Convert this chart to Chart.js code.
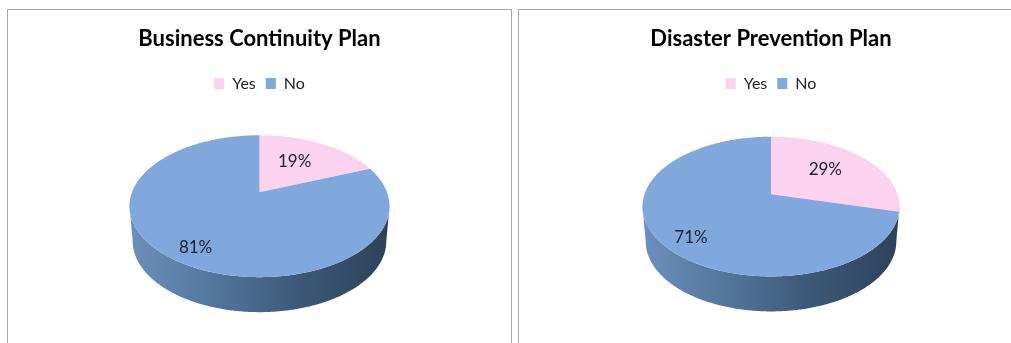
<!DOCTYPE html>
<html>
<head>
<meta charset="utf-8">
<title>Plans</title>
<script src="https://cdn.jsdelivr.net/npm/chart.js@4/dist/chart.umd.min.js"></script>
<style>
  html, body { margin: 0; padding: 0; background: #fff; overflow: hidden; }
  #page { position: relative; width: 1011px; height: 343px; overflow: hidden; }
  .panel { position: absolute; top: 9px; height: 345px; border: 1px solid #a6a6a6; box-sizing: border-box; background: #fff; }
  #panelA { left: 7px; width: 505px; }
  #panelB { left: 518px; width: 520px; }
  canvas { position: absolute; top: 0; left: 0; }
</style>
</head>
<body>
<div id="page">
  <div class="panel" id="panelA"><canvas id="chartA" width="503" height="333"></canvas></div>
  <div class="panel" id="panelB"><canvas id="chartB" width="504" height="333"></canvas></div>
</div>
<script>
const categories = ['Yes', 'No'];
const businessContinuity = [19, 81];
const disasterPrevention = [29, 71];

const pink = '#fbd3ee';
const blue = '#80a8dc';

// tilted pie: the library works out the arcs, this plugin paints them in perspective
const tiltedPie = {
  id: 'tiltedPie',
  beforeDatasetsDraw(chart, args, opts) {
    const ctx = chart.ctx;
    const arcs = chart.getDatasetMeta(0).data;
    const cx = arcs[0].x, cy = arcs[0].y, r = arcs[0].outerRadius;

    const project = (angle, f) => {
      // chart.js angles: 0 points right, clockwise
      const u = Math.cos(angle) * f, v = Math.sin(angle) * f;
      const w = 1 - opts.tilt * v;
      return [cx + r * u / w, cy + r * opts.squash * v / w];
    };
    chart.$project = project;

    // side wall, from the leftmost rim point round the front to the rightmost
    const rim = [];
    for (let i = 0; i <= 720; i++) rim.push(project(i / 720 * Math.PI * 2, 1));
    let right = 0, left = 0;
    rim.forEach((p, i) => {
      if (p[0] > rim[right][0]) right = i;
      if (p[0] < rim[left][0]) left = i;
    });
    const front = rim.slice(right, left + 1);
    const minX = rim[left][0], maxX = rim[right][0];
    const grad = ctx.createLinearGradient(minX, 0, maxX, 0);
    grad.addColorStop(0, '#6c90bc');
    grad.addColorStop(0.3, '#55789f');
    grad.addColorStop(0.65, '#3d5878');
    grad.addColorStop(1, '#2d4258');
    ctx.save();
    ctx.fillStyle = grad;
    ctx.beginPath();
    front.forEach((p, i) => i ? ctx.lineTo(p[0], p[1]) : ctx.moveTo(p[0], p[1]));
    // the base sits a little further away, so it is slightly narrower
    front.slice().reverse().forEach(p => ctx.lineTo(cx + (p[0] - cx) * opts.taper, p[1] + opts.depth));
    ctx.closePath();
    ctx.fill();

    // top face
    arcs.forEach((arc, i) => {
      ctx.fillStyle = chart.data.datasets[0].backgroundColor[i];
      ctx.beginPath();
      ctx.moveTo(cx, cy);
      const steps = 180;
      for (let s = 0; s <= steps; s++) {
        const p = project(arc.startAngle + (arc.endAngle - arc.startAngle) * s / steps, 1);
        ctx.lineTo(p[0], p[1]);
      }
      ctx.closePath();
      ctx.fill();
    });
    ctx.restore();
    return false;
  },
  afterDraw(chart, args, opts) {
    const ctx = chart.ctx;
    const values = chart.data.datasets[0].data;
    ctx.save();
    ctx.font = '17px Lato';
    ctx.fillStyle = '#1d2233';
    ctx.textAlign = 'center';
    ctx.textBaseline = 'middle';
    chart.getDatasetMeta(0).data.forEach((arc, i) => {
      const p = chart.$project((arc.startAngle + arc.endAngle) / 2, opts.labelAt[i]);
      ctx.fillText(values[i] + '%', p[0] + opts.labelNudge[i][0], p[1] + opts.labelNudge[i][1]);
    });
    ctx.restore();
  }
};

function planChart(id, heading, values, radius, paddingBottom, tilt, labelAt, labelNudge) {
  return new Chart(document.getElementById(id), {
    type: 'pie',
    data: {
      labels: categories,
      datasets: [{ data: values, backgroundColor: [pink, blue], radius: radius, borderWidth: 0 }]
    },
    options: {
      responsive: false,
      animation: false,
      layout: { padding: { bottom: paddingBottom } },
      plugins: {
        title: {
          display: true,
          text: heading,
          color: '#000',
          font: { family: 'Lato', size: 22, weight: 'bold' },
          padding: { top: 16, bottom: 13 }
        },
        legend: {
          position: 'top',
          labels: {
            color: '#222',
            font: { family: 'Lato', size: 16 },
            boxWidth: 10,
            boxHeight: 11,
            padding: 10
          }
        },
        tooltip: { enabled: false },
        tiltedPie: { tilt: tilt, squash: 0.535, depth: 35, taper: 0.975, labelAt: labelAt, labelNudge: labelNudge }
      }
    },
    plugins: [tiltedPie]
  });
}

planChart('chartA', 'Business Continuity Plan', businessContinuity, 127.5, 60, 0.197, [0.6, 0.8], [[-4, 0], [2, 3]]);
planChart('chartB', 'Disaster Prevention Plan', disasterPrevention, 126.5, 56, 0.177, [0.6, 0.82], [[-2, -1], [10, 6]]);
</script>
</body>
</html>
